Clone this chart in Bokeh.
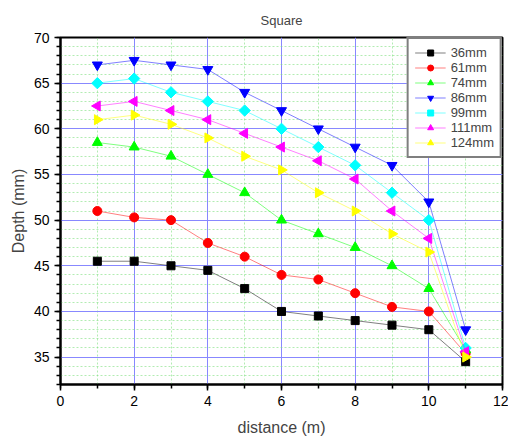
import numpy as np
from bokeh.plotting import figure
from bokeh.models import SingleIntervalTicker, Range1d, Legend
from bokeh.embed import file_html
from bokeh.resources import INLINE

x = [1, 2, 3, 4, 5, 6, 7, 8, 9, 10, 11]
s36 = [45.5, 45.5, 45.0, 44.5, 42.5, 40.0, 39.5, 39.0, 38.5, 38.0, 34.5]
s61 = [51.0, 50.3, 50.0, 47.5, 46.0, 44.0, 43.5, 42.0, 40.5, 40.0, 35.4]
s74 = [58.5, 58.0, 57.0, 55.0, 53.0, 50.0, 48.5, 47.0, 45.0, 42.5, 35.8]
s86 = [67.0, 67.5, 67.0, 66.5, 64.0, 62.0, 60.0, 58.0, 56.0, 52.0, 38.0]
s99 = [65.0, 65.5, 64.0, 63.0, 62.0, 60.0, 58.0, 56.0, 53.0, 50.0, 36.0]
s111 = [62.5, 63.0, 62.0, 61.0, 59.5, 58.0, 56.5, 54.5, 51.0, 48.0, 35.6]
s124 = [61.0, 61.5, 60.5, 59.0, 57.0, 55.5, 53.0, 51.0, 48.5, 46.5, 35.0]
labels = ["36mm", "61mm", "74mm", "86mm", "99mm", "111mm", "124mm"]
series = [s36, s61, s74, s86, s99, s111, s124]
colors = ["#000000", "#FF0000", "#00FF00", "#0000FF", "#00FFFF", "#FF00FF", "#FFFF00"]
markers = ["square", "circle", "triangle", "inverted_triangle", "square", "triangle", "triangle"]
angles = [0, 0, 0, 0, np.pi / 4, np.pi / 2, -np.pi / 2]
sizes = [8, 9, 10, 10, 8, 10, 10]

FONT = "Liberation Sans"

p = figure(width=508, height=439, output_backend="svg", toolbar_location=None,
           x_range=Range1d(0, 12), y_range=Range1d(32, 70),
           min_border_left=60, min_border_right=6, min_border_top=37, min_border_bottom=55,
           title="Square")
p.title.align = "center"
p.title.text_font = FONT
p.title.text_font_size = "13px"
p.title.text_font_style = "normal"
p.title.standoff = 20

p.outline_line_color = "black"
p.outline_line_width = 2
p.background_fill_color = "white"
p.border_fill_color = "white"

p.xaxis.ticker = SingleIntervalTicker(interval=2, num_minor_ticks=2)
p.yaxis.ticker = SingleIntervalTicker(interval=5, num_minor_ticks=5)

for ax in (p.xaxis[0], p.yaxis[0]):
    ax.axis_line_width = 2
    ax.major_tick_line_width = 1.5
    ax.minor_tick_line_width = 1.5
    ax.major_tick_in = 0
    ax.major_tick_out = 6
    ax.minor_tick_in = 0
    ax.minor_tick_out = 4
    ax.major_label_text_font = FONT
    ax.major_label_text_font_size = "14px"
    ax.major_label_text_color = "black"
    ax.axis_label_text_font = FONT
    ax.axis_label_text_font_size = "16px"
    ax.axis_label_text_font_style = "normal"

p.xaxis.axis_label = "distance (m)"
p.yaxis.axis_label = "Depth (mm)"
p.xaxis.axis_label_standoff = 10
p.yaxis.axis_label_standoff = 4

for g in (p.xgrid[0], p.ygrid[0]):
    g.grid_line_color = "#8888FF"
    g.grid_line_width = 1
    g.minor_grid_line_color = "#7FE07F"
    g.minor_grid_line_alpha = 0.6
    g.minor_grid_line_dash = "2 2"
    g.minor_grid_line_width = 1

items = []
for lab, ys, c, m, a, sz in zip(labels, series, colors, markers, angles, sizes):
    ln = p.line(x, ys, line_color=c, line_width=1, line_alpha=0.5)
    sc = p.scatter(x, ys, marker=m, angle=a, size=sz, fill_color=c, line_color=c)
    items.append((lab, [ln, sc]))

legend = Legend(items=items, location="top_right", margin=0, padding=6, spacing=0,
                glyph_height=15, glyph_width=31, label_height=15, label_standoff=5,
                label_text_font=FONT, label_text_font_size="13px",
                border_line_color="black", border_line_width=2,
                background_fill_alpha=1.0)
p.add_layout(legend, "center")

open("out.html", "w").write(file_html(p, INLINE))
